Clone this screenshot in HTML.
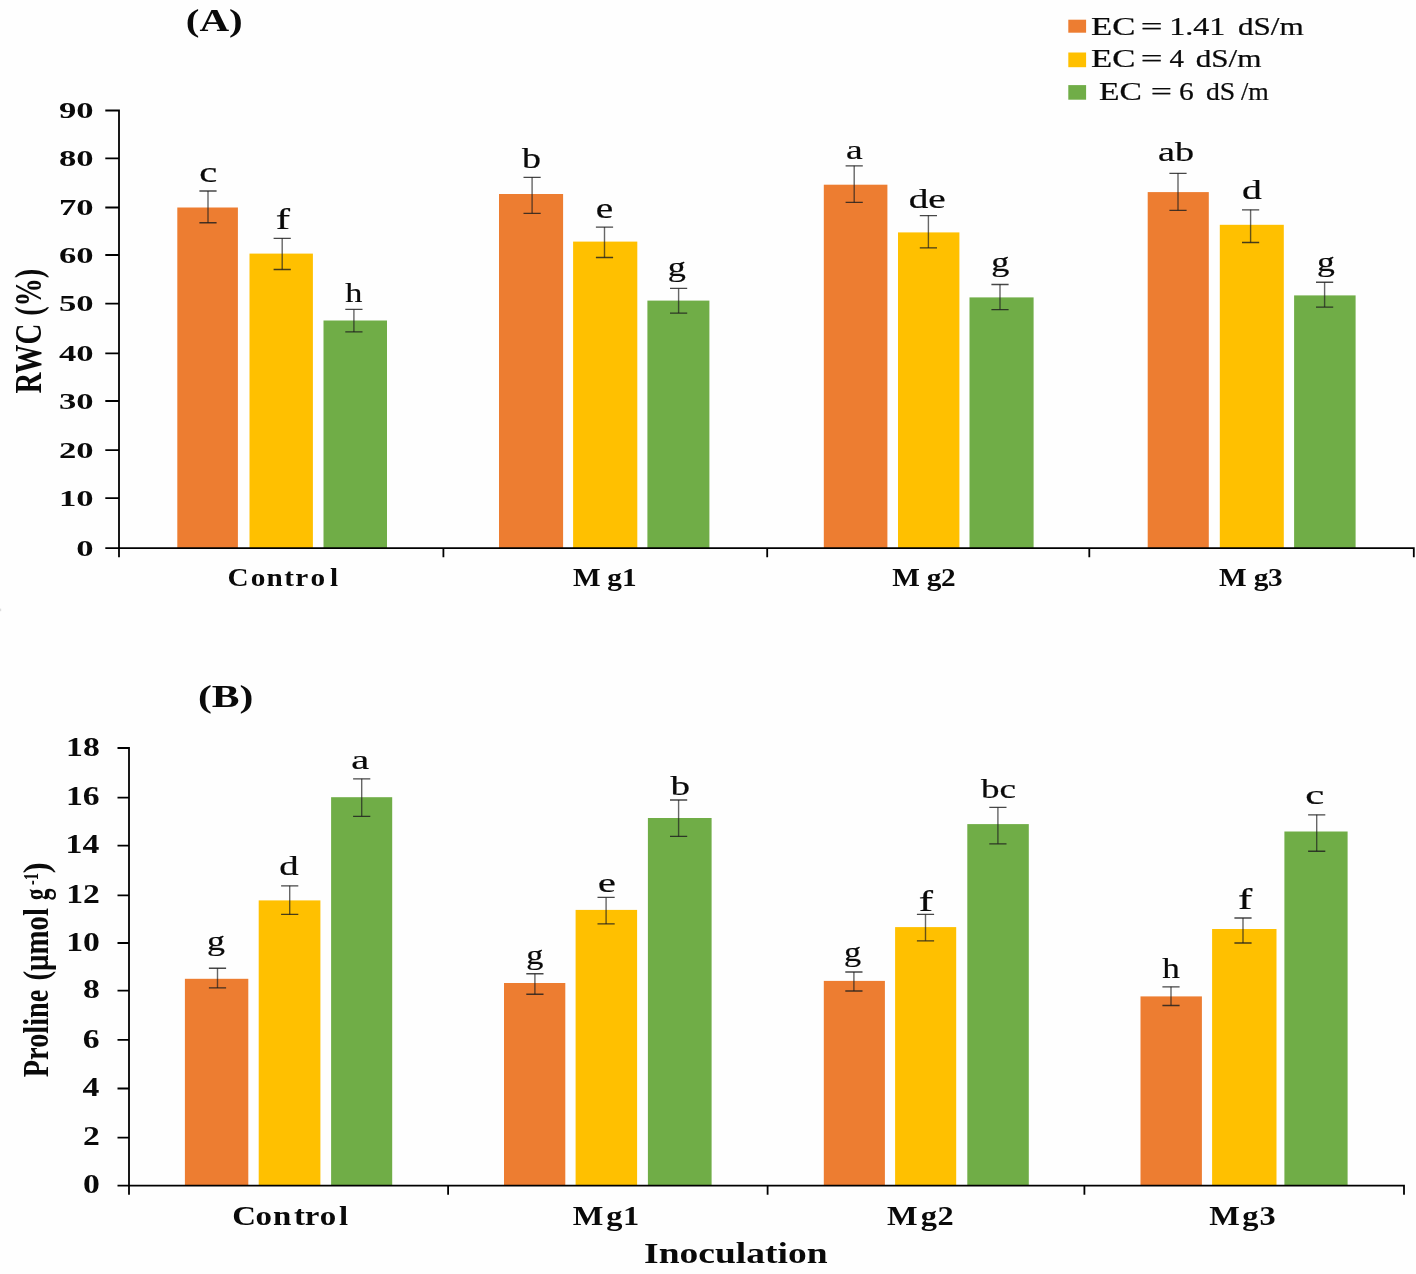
<!DOCTYPE html>
<html lang="en">
<head>
<meta charset="utf-8">
<title>RWC and proline charts</title>
<style>
html,body{margin:0;padding:0;background:#fefefe;}
body{width:1416px;height:1274px;overflow:hidden;}
svg{display:block;filter:blur(0.5px);}
text{font-family:"Liberation Serif","DejaVu Serif",serif;fill:#0a0a0a;}
text.r{stroke:#0a0a0a;stroke-width:0.22px;stroke-linejoin:round;}
</style>
</head>
<body>
<svg width="1416" height="1274" viewBox="0 0 1416 1274">
<rect width="1416" height="1274" fill="#fefefe"/>
<rect x="177.3" y="207.5" width="60.6" height="340.7" fill="#ED7D31"/>
<rect x="249.5" y="253.6" width="63.4" height="294.6" fill="#FFC000"/>
<rect x="323.5" y="320.5" width="63.5" height="227.7" fill="#70AD47"/>
<rect x="499" y="194" width="64.1" height="354.2" fill="#ED7D31"/>
<rect x="573.1" y="241.6" width="64.2" height="306.6" fill="#FFC000"/>
<rect x="647.4" y="300.6" width="62" height="247.6" fill="#70AD47"/>
<rect x="823.8" y="184.7" width="63.6" height="363.5" fill="#ED7D31"/>
<rect x="898" y="232.4" width="61.4" height="315.8" fill="#FFC000"/>
<rect x="969.5" y="297.4" width="64.1" height="250.8" fill="#70AD47"/>
<rect x="1147.7" y="192.1" width="61.1" height="356.1" fill="#ED7D31"/>
<rect x="1219.8" y="224.8" width="64" height="323.4" fill="#FFC000"/>
<rect x="1294.1" y="295.4" width="61.5" height="252.8" fill="#70AD47"/>
<path d="M208 191V222.7M282.2 238.3V269.5M353.9 309.4V331.9M532.1 177.3V213.3M604.5 227.1V257.5M678.6 288.4V313.1M854.2 165.8V202.4M928.4 215.6V247.9M1000 284.5V309.6M1178 173.3V210.3M1250.6 209.8V242.5M1324.6 282.2V307.1" fill="none" stroke="#1e1e1e" stroke-opacity="0.68" stroke-width="1.4"/>
<path d="M199.4 191H216.6M199.4 222.7H216.6M273.6 238.3H290.8M273.6 269.5H290.8M345.3 309.4H362.5M345.3 331.9H362.5M523.5 177.3H540.7M523.5 213.3H540.7M595.9 227.1H613.1M595.9 257.5H613.1M670 288.4H687.2M670 313.1H687.2M845.6 165.8H862.8M845.6 202.4H862.8M919.8 215.6H937M919.8 247.9H937M991.4 284.5H1008.6M991.4 309.6H1008.6M1169.4 173.3H1186.6M1169.4 210.3H1186.6M1242 209.8H1259.2M1242 242.5H1259.2M1316 282.2H1333.2M1316 307.1H1333.2" fill="none" stroke="#1e1e1e" stroke-opacity="0.82" stroke-width="1.35"/>
<path d="M119 109.6V557.2M105.3 548.2H1414.7M105.3 498.1H119M105.3 450.2H119M105.3 401H119M105.3 353.4H119M105.3 303.7H119M105.3 255H119M105.3 207.5H119M105.3 158.3H119M105.3 110.5H119M443.4 548.2V557.2M767.2 548.2V557.2M1089.3 548.2V557.2M1413.8 548.2V557.2" fill="none" stroke="#000" stroke-width="1.8"/>
<text transform="matrix(1.47 0 0 1 76.24 555.8)" font-size="23.6" font-weight="bold">0</text>
<text transform="matrix(1.47 0 0 1 58.9 505.7)" font-size="23.6" font-weight="bold">10</text>
<text transform="matrix(1.47 0 0 1 58.9 457.8)" font-size="23.6" font-weight="bold">20</text>
<text transform="matrix(1.47 0 0 1 58.9 408.6)" font-size="23.6" font-weight="bold">30</text>
<text transform="matrix(1.47 0 0 1 58.9 361)" font-size="23.6" font-weight="bold">40</text>
<text transform="matrix(1.47 0 0 1 58.9 311.3)" font-size="23.6" font-weight="bold">50</text>
<text transform="matrix(1.47 0 0 1 58.9 262.6)" font-size="23.6" font-weight="bold">60</text>
<text transform="matrix(1.47 0 0 1 58.9 215.1)" font-size="23.6" font-weight="bold">70</text>
<text transform="matrix(1.47 0 0 1 58.9 165.9)" font-size="23.6" font-weight="bold">80</text>
<text transform="matrix(1.47 0 0 1 58.9 118.1)" font-size="23.6" font-weight="bold">90</text>
<text transform="matrix(1.17 0 0 1 0 585.9)" x="194.43 214.35 227.68 243 252.41 265.37 282.06" font-size="25" font-weight="bold">Control</text>
<text transform="matrix(1.17 0 0 1 0 585.6)" x="489.7 518.95 531.54" font-size="25" font-weight="bold">Mg1</text>
<text transform="matrix(1.17 0 0 1 0 585.6)" x="762.65 792.15 804.18" font-size="25" font-weight="bold">Mg2</text>
<text transform="matrix(1.17 0 0 1 0 585.6)" x="1041.92 1071.6 1083.71" font-size="25" font-weight="bold">Mg3</text>
<text transform="matrix(1.42 0 0 1.02 199.18 182.46)" font-size="28.5" font-weight="normal" class="r">c</text>
<text transform="matrix(1.5 0 0 1 275.75 229.45)" font-size="28.5" font-weight="normal" class="r">f</text>
<text transform="matrix(1.2 0 0 0.98 345.34 302.25)" font-size="28.5" font-weight="normal" class="r">h</text>
<text transform="matrix(1.33 0 0 1 522 167.77)" font-size="28.5" font-weight="normal" class="r">b</text>
<text transform="matrix(1.38 0 0 1.01 595.83 218.06)" font-size="28.5" font-weight="normal" class="r">e</text>
<text transform="matrix(1.27 0 0 0.94 667.77 276.25)" font-size="28.5" font-weight="normal" class="r">g</text>
<text transform="matrix(1.32 0 0 0.99 845.98 158.57)" font-size="28.5" font-weight="normal" class="r">a</text>
<text transform="matrix(1.38 0 0 0.96 908.63 208.38)" font-size="28.5" font-weight="normal" class="r">de</text>
<text transform="matrix(1.27 0 0 0.94 991.27 270.95)" font-size="28.5" font-weight="normal" class="r">g</text>
<text transform="matrix(1.34 0 0 0.98 1157.96 161.17)" font-size="28.5" font-weight="normal" class="r">ab</text>
<text transform="matrix(1.39 0 0 0.96 1242.12 198.68)" font-size="28.5" font-weight="normal" class="r">d</text>
<text transform="matrix(1.25 0 0 0.94 1316.9 270.8)" font-size="28.5" font-weight="normal" class="r">g</text>
<text transform="matrix(1.3 0 0 1 185.75 31)" font-size="31.6" font-weight="bold">(A)</text>
<rect x="1068.3" y="19.7" width="17.8" height="13" fill="#ED7D31"/>
<rect x="1068.3" y="52.5" width="17.8" height="14.7" fill="#FFC000"/>
<rect x="1068.3" y="85.1" width="17.8" height="14.6" fill="#70AD47"/>
<text class="r" y="34.6" font-size="25"><tspan x="1091.06" textLength="44.35" lengthAdjust="spacingAndGlyphs">EC</tspan> <tspan x="1140.66" textLength="21.83" lengthAdjust="spacingAndGlyphs">=</tspan> <tspan x="1169.28" textLength="56.04" lengthAdjust="spacingAndGlyphs">1.41</tspan> <tspan x="1237.91" textLength="65.76" lengthAdjust="spacingAndGlyphs">dS/m</tspan></text>
<text class="r" y="67.2" font-size="25"><tspan x="1091.06" textLength="44.35" lengthAdjust="spacingAndGlyphs">EC</tspan> <tspan x="1140.66" textLength="21.83" lengthAdjust="spacingAndGlyphs">=</tspan> <tspan x="1169.62" textLength="14.41" lengthAdjust="spacingAndGlyphs">4</tspan> <tspan x="1195.71" textLength="65.76" lengthAdjust="spacingAndGlyphs">dS/m</tspan></text>
<text class="r" y="99.5" font-size="25"><tspan x="1098.99" textLength="42.85" lengthAdjust="spacingAndGlyphs">EC</tspan> <tspan x="1150.82" textLength="21.23" lengthAdjust="spacingAndGlyphs">=</tspan> <tspan x="1178.92" textLength="14.77" lengthAdjust="spacingAndGlyphs">6</tspan> <tspan x="1205.93" textLength="29.26" lengthAdjust="spacingAndGlyphs">dS</tspan> <tspan x="1240.9" textLength="27.78" lengthAdjust="spacingAndGlyphs">/m</tspan></text>
<text transform="matrix(0 -1 1.32 0 41 393)" font-size="28" font-weight="bold"><tspan x="-0.43" textLength="69.73" lengthAdjust="spacingAndGlyphs">RWC</tspan> <tspan x="77.13" textLength="47.14" lengthAdjust="spacingAndGlyphs">(%)</tspan></text>
<rect x="184.9" y="978.8" width="63.4" height="206.9" fill="#ED7D31"/>
<rect x="258.7" y="900.4" width="61.7" height="285.3" fill="#FFC000"/>
<rect x="331.1" y="797.2" width="61.1" height="388.5" fill="#70AD47"/>
<rect x="504" y="983" width="61.3" height="202.7" fill="#ED7D31"/>
<rect x="575.6" y="909.9" width="61.5" height="275.8" fill="#FFC000"/>
<rect x="647.9" y="818" width="63.7" height="367.7" fill="#70AD47"/>
<rect x="823.8" y="980.9" width="61.1" height="204.8" fill="#ED7D31"/>
<rect x="895.1" y="927.1" width="61.1" height="258.6" fill="#FFC000"/>
<rect x="967.3" y="824.1" width="61.5" height="361.6" fill="#70AD47"/>
<rect x="1140.5" y="996.4" width="61.4" height="189.3" fill="#ED7D31"/>
<rect x="1212.1" y="929" width="64.4" height="256.7" fill="#FFC000"/>
<rect x="1284.4" y="831.5" width="63.2" height="354.2" fill="#70AD47"/>
<path d="M217.5 968.2V987.9M289.7 885.8V914.4M361.7 778.8V816.3M534.9 973.7V994.2M606.1 897.4V923.9M678.6 800V836.4M853.9 972V991M925.5 914.4V940.8M997.9 807.4V843.8M1171 986.8V1005.5M1243 918V943M1316.7 814.8V851.2" fill="none" stroke="#1e1e1e" stroke-opacity="0.68" stroke-width="1.4"/>
<path d="M208.9 968.2H226.1M208.9 987.9H226.1M281.1 885.8H298.3M281.1 914.4H298.3M353.1 778.8H370.3M353.1 816.3H370.3M526.3 973.7H543.5M526.3 994.2H543.5M597.5 897.4H614.7M597.5 923.9H614.7M670 800H687.2M670 836.4H687.2M845.3 972H862.5M845.3 991H862.5M916.9 914.4H934.1M916.9 940.8H934.1M989.3 807.4H1006.5M989.3 843.8H1006.5M1162.4 986.8H1179.6M1162.4 1005.5H1179.6M1234.4 918H1251.6M1234.4 943H1251.6M1308.1 814.8H1325.3M1308.1 851.2H1325.3" fill="none" stroke="#1e1e1e" stroke-opacity="0.82" stroke-width="1.35"/>
<path d="M129 747.1V1194.7M117.5 1185.7H1404.9M117.5 1137.7H129M117.5 1088.5H129M117.5 1039.9H129M117.5 990.7H129M117.5 943H129M117.5 895.3H129M117.5 845.6H129M117.5 797.7H129M117.5 748H129M448.1 1185.7V1194.7M767.6 1185.7V1194.7M1084.4 1185.7V1194.7M1404 1185.7V1194.7" fill="none" stroke="#000" stroke-width="1.8"/>
<text transform="matrix(1.22 0 0 1 83.11 1193.3)" font-size="27.6" font-weight="bold">0</text>
<text transform="matrix(1.22 0 0 1 83.11 1145.3)" font-size="27.6" font-weight="bold">2</text>
<text transform="matrix(1.22 0 0 1 82.44 1096.1)" font-size="27.6" font-weight="bold">4</text>
<text transform="matrix(1.22 0 0 1 82.77 1047.5)" font-size="27.6" font-weight="bold">6</text>
<text transform="matrix(1.22 0 0 1 82.94 998.3)" font-size="27.6" font-weight="bold">8</text>
<text transform="matrix(1.22 0 0 1 66.27 950.6)" font-size="27.6" font-weight="bold">10</text>
<text transform="matrix(1.22 0 0 1 66.27 902.9)" font-size="27.6" font-weight="bold">12</text>
<text transform="matrix(1.22 0 0 1 65.6 853.2)" font-size="27.6" font-weight="bold">14</text>
<text transform="matrix(1.22 0 0 1 65.94 805.3)" font-size="27.6" font-weight="bold">16</text>
<text transform="matrix(1.22 0 0 1 66.11 755.6)" font-size="27.6" font-weight="bold">18</text>
<text transform="matrix(1.22 0 0 1 0 1224.8)" x="190.29 209.48 223.85 240.92 249.83 262.18 277.78" font-size="27" font-weight="bold">Control</text>
<text transform="matrix(1.2 0 0 1 0 1224.9)" x="477.28 505.13 519.14" font-size="27" font-weight="bold">Mg1</text>
<text transform="matrix(1.2 0 0 1 0 1224.9)" x="739.15 767.26 781.33" font-size="27" font-weight="bold">Mg2</text>
<text transform="matrix(1.2 0 0 1 0 1224.9)" x="1007.61 1035.21 1049.58" font-size="27" font-weight="bold">Mg3</text>
<text transform="matrix(1.26 0 0 0.96 206.99 950.28)" font-size="28.5" font-weight="normal" class="r">g</text>
<text transform="matrix(1.36 0 0 0.96 279.35 874.78)" font-size="28.5" font-weight="normal" class="r">d</text>
<text transform="matrix(1.42 0 0 0.99 351.28 769.47)" font-size="28.5" font-weight="normal" class="r">a</text>
<text transform="matrix(1.2 0 0 0.96 526.27 964.05)" font-size="28.5" font-weight="normal" class="r">g</text>
<text transform="matrix(1.41 0 0 0.98 597.99 892.27)" font-size="28.5" font-weight="normal" class="r">e</text>
<text transform="matrix(1.37 0 0 0.98 670.5 794.77)" font-size="28.5" font-weight="normal" class="r">b</text>
<text transform="matrix(1.2 0 0 0.94 843.92 961.3)" font-size="28.5" font-weight="normal" class="r">g</text>
<text transform="matrix(1.5 0 0 1.03 918.7 910.65)" font-size="28.5" font-weight="normal" class="r">f</text>
<text transform="matrix(1.3 0 0 0.99 981.1 798.07)" font-size="28.5" font-weight="normal" class="r">bc</text>
<text transform="matrix(1.23 0 0 1 1162.15 978.35)" font-size="28.5" font-weight="normal" class="r">h</text>
<text transform="matrix(1.5 0 0 1.03 1237.95 908.55)" font-size="28.5" font-weight="normal" class="r">f</text>
<text transform="matrix(1.5 0 0 0.94 1305.37 803.78)" font-size="28.5" font-weight="normal" class="r">c</text>
<text transform="matrix(1.31 0 0 1 197.92 706.6)" font-size="31.8" font-weight="bold">(B)</text>
<text transform="matrix(1.26 0 0 1 644.08 1263.2)" font-size="29.8" font-weight="bold">Inoculation</text>
<text transform="matrix(0 -1 1.3 0 47.6 1076.8)" font-size="28" font-weight="bold"><tspan x="-0.43" textLength="87.66" lengthAdjust="spacingAndGlyphs">Proline</tspan> <tspan x="96.2" textLength="72.57" lengthAdjust="spacingAndGlyphs">(µmol</tspan> <tspan x="176.62" textLength="11.61" lengthAdjust="spacingAndGlyphs">g</tspan><tspan x="191.69" textLength="12.22" lengthAdjust="spacingAndGlyphs" font-size="16.8" dy="-7.2">-1</tspan><tspan x="203.61" textLength="11.02" lengthAdjust="spacingAndGlyphs" dy="7.2">)</tspan></text>
<rect x="0" y="608.6" width="1.2" height="2.6" fill="#dedede"/>
</svg>
</body>
</html>
